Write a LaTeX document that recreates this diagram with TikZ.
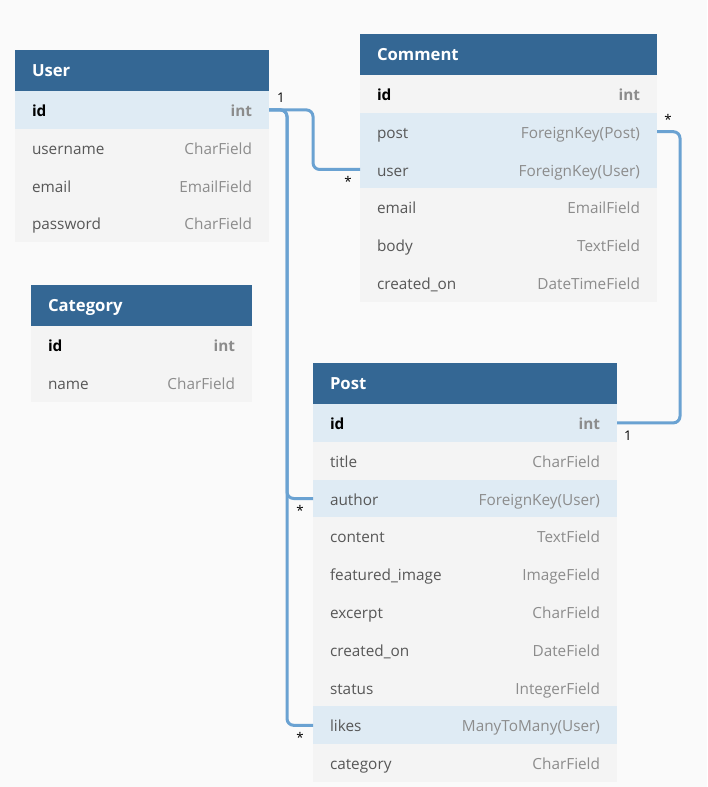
\documentclass[tikz,border=0pt]{standalone}
\usepackage{fontspec}
\setmainfont{Open Sans}
\usepackage{xcolor}
\usepackage{tikz}
\usetikzlibrary{positioning}
\definecolor{headcolor}{HTML}{346794}
\definecolor{rowcolor}{HTML}{F4F4F4}
\definecolor{linkcolor}{HTML}{DFEBF4}
\definecolor{bgcolor}{HTML}{FAFAFA}
\definecolor{namecolor}{HTML}{575757}
\definecolor{typecolor}{HTML}{8C8C8C}
\definecolor{conncolor}{HTML}{6AA2D2}

\begin{document}
\begin{tikzpicture}[x=0.75pt,y=-0.75pt,
  head/.style={anchor=north west,fill=headcolor,text=white,font=\fontsize{12.5}{15}\selectfont\bfseries,inner xsep=12.75pt,inner ysep=0pt,outer sep=0pt,text height=11.5pt,text depth=2pt,minimum height=30.75pt},
  fld/.style={fill=rowcolor,text=namecolor,font=\fontsize{11.5}{13}\selectfont,inner xsep=12.75pt,inner ysep=0pt,outer sep=0pt,text height=12pt,text depth=2pt,minimum height=28.35pt},
  lnk/.style={fld,fill=linkcolor},
  pk/.style={fld,text=black,font=\fontsize{11.5}{13}\selectfont\bfseries},
  pklnk/.style={pk,fill=linkcolor},
  conn/.style={conncolor,line width=2.25pt,rounded corners=5pt},
  card/.style={font=\fontsize{10}{11}\selectfont,inner sep=0pt}]
\fill[bgcolor] (0,0) rectangle (707,787);
% User
\node[head,text width=165pt] (user-0) at (15,50) {User};
\foreach \fn/\ft/\fs [count=\i, remember=\i as \j (initially 0)] in {id/int/pklnk, username/CharField/fld, email/EmailField/fld, password/CharField/fld}
    \node[\fs,text width=165pt,below=0pt of user-\j] (user-\i) {\fn\hfill\textcolor{typecolor}{\ft}};
% Comment
\node[head,text width=197.25pt] (comment-0) at (360,34) {Comment};
\foreach \fn/\ft/\fs [count=\i, remember=\i as \j (initially 0)] in {id/int/pk, post/ForeignKey(Post)/lnk, user/ForeignKey(User)/lnk, email/EmailField/fld, body/TextField/fld, created\_on/DateTimeField/fld}
    \node[\fs,text width=197.25pt,below=0pt of comment-\j] (comment-\i) {\fn\hfill\textcolor{typecolor}{\ft}};
% Category
\node[head,text width=140.25pt] (category-0) at (31,285) {Category};
\foreach \fn/\ft/\fs [count=\i, remember=\i as \j (initially 0)] in {id/int/pk, name/CharField/fld}
    \node[\fs,text width=140.25pt,below=0pt of category-\j] (category-\i) {\fn\hfill\textcolor{typecolor}{\ft}};
% Post
\node[head,text width=202.5pt] (post-0) at (313,363) {Post};
\foreach \fn/\ft/\fs [count=\i, remember=\i as \j (initially 0)] in {id/int/pklnk, title/CharField/fld, author/ForeignKey(User)/lnk, content/TextField/fld, featured\_image/ImageField/fld, excerpt/CharField/fld, created\_on/DateField/fld, status/IntegerField/fld, likes/ManyToMany(User)/lnk, category/CharField/fld}
    \node[\fs,text width=202.5pt,below=0pt of post-\j] (post-\i) {\fn\hfill\textcolor{typecolor}{\ft}};
% links
\draw[conn] (user-1.east) -- ++(44,0) |- (comment-3.west);
\draw[conn] (user-1.east) -- ++(18,0) |- (post-3.west);
\draw[conn] (user-1.east) -- ++(18,0) |- (post-9.west);
\draw[conn] (comment-2.east) -- ++(23,0) |- (post-1.east);
\node[card] (user-one) at ([shift={(12,-12)}]user-1.east) {1};
\node[card] (comment-many) at ([shift={(-12,12)}]comment-3.west) {*};
\node[card] (author-many) at ([shift={(-13,12)}]post-3.west) {*};
\node[card] (likes-many) at ([shift={(-13,12)}]post-9.west) {*};
\node[card] (post-many) at ([shift={(11,-12)}]comment-2.east) {*};
\node[card] (post-one) at ([shift={(11,13)}]post-1.east) {1};
\end{tikzpicture}
\end{document}
